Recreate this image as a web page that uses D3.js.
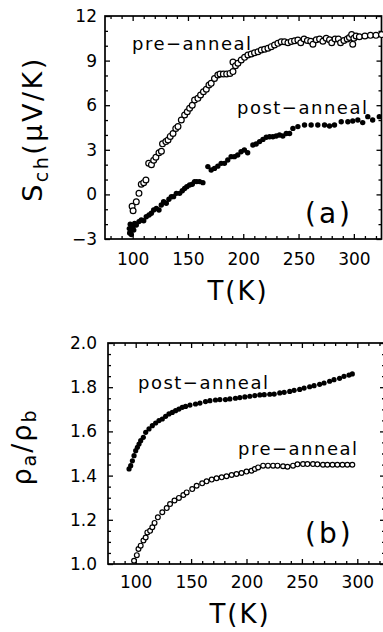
<!DOCTYPE html>
<html>
<head>
<meta charset="utf-8">
<script src="https://cdn.jsdelivr.net/npm/d3@7"></script>
<style>
  body { margin: 0; background: #fff; }
  svg { display: block; }
</style>
</head>
<body>
<svg id="chart" width="383" height="632"></svg>
<script>
// panel (a): Seebeck coefficient, pre-anneal (open) and post-anneal (filled)
const aPreT = [99.5, 100.4, 103.3, 105.7, 107.8, 110, 112, 114.5, 117, 119, 121, 123.8, 126, 127, 130, 132, 134, 136.5, 139, 141, 144,
  147, 149.4, 151.5, 153.9, 156, 159, 161.4, 164, 166.6, 169, 171, 174, 177, 179, 182, 185, 188, 190.7, 190.7, 193, 195.2, 198.2,
  201.2, 204.2, 207.2, 210.2, 213.3, 216.3, 219.3, 222.3, 225.3, 228.3, 231.3, 234.3, 237.3, 240.4, 243.4, 246.4, 249.4, 252, 255,
  258, 261, 263, 266, 269, 272, 275, 278, 280, 283, 286, 288, 291, 294, 296, 298, 299, 300, 302, 305, 310, 315, 320, 325];
const aPreS = [-0.8, -1.1, -0.5, 0.07, 0.68, 0.79, 0.97, 2.1, 2.0, 2.3, 2.5, 2.8, 2.9, 3.4, 3.55, 3.66, 3.9, 4.1, 4.44, 4.56, 5.0,
  5.34, 5.56, 5.79, 6.0, 6.35, 6.46, 6.69, 6.9, 7.07, 7.36, 7.47, 7.8, 8.03, 8.1, 8.1, 8.1, 8.14, 8.26, 8.9, 8.65, 8.82, 9.04,
  9.22, 9.38, 9.44, 9.53, 9.6, 9.71, 9.76, 9.83, 9.94, 10.05, 10.16, 10.27, 10.27, 10.2, 10.29, 10.34, 10.38, 10.2, 10.45,
  10.35, 10.3, 10.1, 10.4, 10.45, 10.3, 10.5, 10.4, 10.2, 10.45, 10.45, 10.2, 10.35, 10.45, 10.55, 10.75, 10.1, 10.5, 10.65, 10.6, 10.65, 10.7, 10.7, 10.75];

const aPostT = [97, 97.3, 97.8, 98.2, 98.8, 99.3, 100.3, 101, 101.8, 103.3, 105.7, 107.8, 110, 112.3, 114.8, 116.9, 119, 121.4, 123.8,
  125.9, 128, 130.4, 132.8, 135, 137, 139.5, 142.5, 144.9, 147, 149, 151.5, 153.9, 156, 158, 160.5, 163.5, 168, 171, 174, 177, 180,
  183, 186, 189, 192, 195, 198, 201, 204, 208.7, 211.7, 214.8, 217.8, 220.8, 223.8, 226.8, 229.8, 232.8, 235.8, 238.9, 241.9,
  244.9, 249.4, 255.4, 261.4, 267.4, 273.5, 278, 282.5, 288.6, 294.6, 299, 303.6, 308, 312.6, 317, 323];
const aPostS = [-2.3, -2.6, -2.0, -2.5, -2.7, -2.2, -2.2, -2.4, -1.95, -2.06, -1.83, -1.72, -1.77, -1.5, -1.39, -1.27, -1.05, -0.94, -1.05,
  -0.71, -0.49, -0.6, -0.33, -0.15, -0.15, 0.07, 0.07, 0.25, 0.4, 0.52, 0.63, 0.68, 0.86, 0.86, 0.86, 0.79, 1.87, 1.64, 1.75, 1.9, 2.09,
  2.09, 2.31, 2.54, 2.54, 2.65, 2.87, 2.99, 2.8, 3.32, 3.39, 3.55, 3.7, 3.84, 3.88, 3.88, 3.93, 4.0, 3.93, 4.1, 4.1,
  4.44, 4.56, 4.67, 4.67, 4.67, 4.67, 4.6, 4.67, 4.89, 4.89, 4.94, 5.0, 4.83, 5.23, 5.0, 5.23];

// panel (b): resistivity anisotropy
const bPostT = [94, 95.5, 97, 98.5, 100, 101.5, 103, 104.5, 106.9, 109, 112, 115, 118, 121, 124, 127, 130, 133, 136, 139, 142, 145,
  149, 154, 158, 163, 167, 172, 176, 181, 185, 190, 194, 198.5, 203, 207.5, 212, 216, 221, 225, 230, 234, 239, 243, 248, 252,
  257, 261, 266, 270, 275, 279, 284, 288, 292.5, 295.5];
const bPostR = [1.43, 1.445, 1.467, 1.49, 1.513, 1.528, 1.543, 1.558, 1.573, 1.596, 1.611, 1.626, 1.638, 1.649, 1.656, 1.668, 1.679,
  1.686, 1.694, 1.701, 1.709, 1.713, 1.719, 1.724, 1.728, 1.735, 1.739, 1.742, 1.744, 1.744, 1.747, 1.75, 1.753, 1.756, 1.759,
  1.762, 1.765, 1.766, 1.768, 1.769, 1.774, 1.777, 1.781, 1.786, 1.79, 1.796, 1.802, 1.807, 1.813, 1.819, 1.827, 1.834, 1.84,
  1.849, 1.855, 1.86];

const bPreT = [98.5, 101, 102.5, 104.5, 107, 109, 110.5, 113, 115, 117, 120, 124, 128, 131, 135, 139, 143, 146, 151, 155, 160, 164,
  168.6, 173, 177.6, 182, 186.6, 191, 195.5, 200, 204.5, 207.5, 210.5, 215, 219.4, 224, 228, 233, 237, 242, 246, 251, 255, 260,
  264, 269, 273, 277.6, 282, 286.6, 291, 295.5];
const bPreR = [1.015, 1.04, 1.068, 1.083, 1.106, 1.12, 1.143, 1.15, 1.166, 1.186, 1.211, 1.234, 1.253, 1.271, 1.287, 1.299, 1.312,
  1.324, 1.339, 1.354, 1.365, 1.374, 1.382, 1.388, 1.392, 1.397, 1.403, 1.407, 1.412, 1.418, 1.422, 1.43, 1.437, 1.445, 1.445,
  1.445, 1.445, 1.442, 1.44, 1.445, 1.451, 1.452, 1.452, 1.452, 1.451, 1.449, 1.449, 1.449, 1.449, 1.449, 1.449, 1.449];

const xTicks = [100, 150, 200, 250, 300];
const aYTicks = [-3, 0, 3, 6, 9, 12];
const bYTicks = [1.0, 1.2, 1.4, 1.6, 1.8, 2.0];

const font = "DejaVu Sans";
const svg = d3.select("#chart");

function drawPanel(p) {
  const x = d3.scaleLinear().domain([75, 325]).range([p.left, p.right]);
  const y = d3.scaleLinear().domain(p.yDomain).range([p.bottom, p.top]);
  const g = svg.append("g");

  const xMinor = d3.range(80, 330, 10).filter(d => d % 50 !== 0);
  const yMinor = d3.range(p.yDomain[0], p.yDomain[1] + 1e-9, p.yMinorStep)
    .filter(d => !p.yTicks.some(t => Math.abs(t - d) < 1e-6));

  function axis(gen, tr, vals, size, labels, pad) {
    const a = g.append("g").attr("transform", tr)
      .call(gen.tickValues(vals).tickSize(size).tickPadding(pad || 3)
        .tickFormat(labels ? labels : ""));
    a.select(".domain").remove();
    a.selectAll("line").attr("stroke-width", 1.3);
    a.attr("font-family", font).attr("font-size", 17);
    a.selectAll("text").attr("fill", "#000");
    return a;
  }

  // bottom / top
  axis(d3.axisBottom(x), `translate(0,${p.bottom})`, xTicks, -5, d => d, p.xPad);
  axis(d3.axisBottom(x), `translate(0,${p.bottom})`, xMinor, -3);
  axis(d3.axisTop(x), `translate(0,${p.top})`, xTicks, -5);
  axis(d3.axisTop(x), `translate(0,${p.top})`, xMinor, -3);
  // left / right
  axis(d3.axisLeft(y), `translate(${p.left},0)`, p.yTicks, -5, p.yFormat, p.yPad);
  axis(d3.axisLeft(y), `translate(${p.left},0)`, yMinor, -3);
  axis(d3.axisRight(y), `translate(${p.right},0)`, p.yTicks, -5);
  axis(d3.axisRight(y), `translate(${p.right},0)`, yMinor, -3);

  g.append("rect")
    .attr("x", p.left).attr("y", p.top)
    .attr("width", p.right - p.left).attr("height", p.bottom - p.top)
    .attr("fill", "none").attr("stroke", "#000").attr("stroke-width", 1.7);

  // filled markers
  g.append("g").selectAll("circle")
    .data(p.filledT.map((t, i) => [t, p.filledV[i]]))
    .join("circle")
    .attr("cx", d => x(d[0])).attr("cy", d => y(d[1]))
    .attr("r", p.rFill).attr("fill", "#000");

  // open markers
  g.append("g").selectAll("circle")
    .data(p.openT.map((t, i) => [t, p.openV[i]]))
    .join("circle")
    .attr("cx", d => x(d[0])).attr("cy", d => y(d[1]))
    .attr("r", p.rOpen).attr("fill", "#fff")
    .attr("stroke", "#000").attr("stroke-width", 1.2);

  // curve labels
  p.notes.forEach(n => {
    g.append("text").attr("x", n.x).attr("y", n.y)
      .attr("font-family", font).attr("font-size", n.size)
      .attr("letter-spacing", n.ls).text(n.text);
  });

  // x title
  g.append("text").attr("x", p.xTitleX).attr("y", p.xTitleY)
    .attr("text-anchor", "middle").attr("font-family", font)
    .attr("font-size", 26).attr("letter-spacing", 2).text("T(K)");
}

drawPanel({
  left: 105, right: 381.5, top: 16, bottom: 239,
  yDomain: [-3, 12], yTicks: aYTicks, yMinorStep: 1, yPad: 8, xPad: 14,
  yFormat: d => (d < 0 ? "\u2212" + Math.abs(d) : d),
  openT: aPreT, openV: aPreS, filledT: aPostT, filledV: aPostS,
  rOpen: 2.9, rFill: 2.7,
  notes: [
    { text: "pre\u2212anneal", x: 132, y: 50, size: 18, ls: 1.5 },
    { text: "post\u2212anneal", x: 237, y: 114, size: 18, ls: 1.5 },
    { text: "(a)", x: 305, y: 223, size: 28, ls: 3 }
  ],
  xTitleX: 238, xTitleY: 300
});

drawPanel({
  left: 108, right: 385, top: 343, bottom: 564,
  yDomain: [1.0, 2.0], yTicks: bYTicks, yMinorStep: 0.05, yPad: 11, xPad: 12,
  yFormat: d3.format(".1f"),
  openT: bPreT, openV: bPreR, filledT: bPostT, filledV: bPostR,
  rOpen: 2.4, rFill: 2.6,
  notes: [
    { text: "post\u2212anneal", x: 138, y: 389, size: 18, ls: 1.5 },
    { text: "pre\u2212anneal", x: 238, y: 455, size: 18, ls: 1.5 },
    { text: "(b)", x: 305, y: 543, size: 28, ls: 3 }
  ],
  xTitleX: 240, xTitleY: 623
});

// y titles
const ya = svg.append("text")
  .attr("transform", "translate(42,129) rotate(-90)")
  .attr("text-anchor", "middle").attr("font-family", font)
  .attr("font-size", 27).attr("letter-spacing", 2.5);
ya.append("tspan").text("S");
ya.append("tspan").attr("font-size", 19).attr("dy", 6).text("ch");
ya.append("tspan").attr("dy", -6).text("(\u03bcV/K)");

const yb = svg.append("text")
  .attr("transform", "translate(31,447) rotate(-90)")
  .attr("text-anchor", "middle").attr("font-family", font)
  .attr("font-size", 27).attr("letter-spacing", 2);
yb.append("tspan").text("\u03c1");
yb.append("tspan").attr("font-size", 19).attr("dy", 5).text("a");
yb.append("tspan").attr("dy", -5).text("/\u03c1");
yb.append("tspan").attr("font-size", 19).attr("dy", 5).text("b");
</script>
</body>
</html>
